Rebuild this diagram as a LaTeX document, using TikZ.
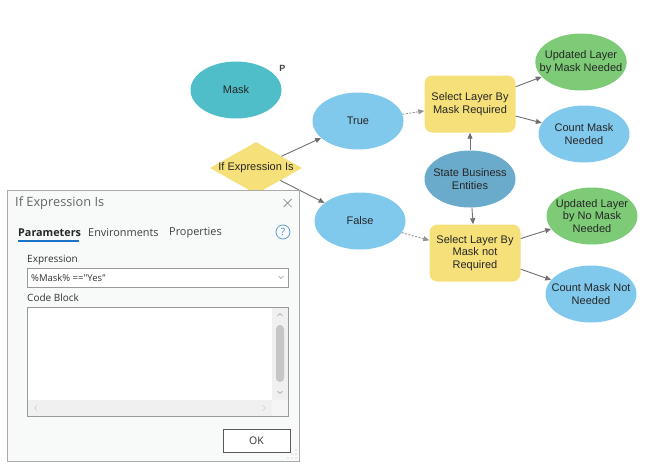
\documentclass[tikz,border=0pt]{standalone}
\definecolor{maskteal}{RGB}{80, 190, 200}
\definecolor{varblue}{RGB}{128, 200, 236}
\definecolor{toolyellow}{RGB}{245, 224, 122}
\definecolor{outgreen}{RGB}{125, 203, 119}
\definecolor{datablue}{RGB}{106, 170, 203}
\definecolor{linkgray}{RGB}{112, 112, 112}
\definecolor{dlgborder}{RGB}{170, 170, 170}
\definecolor{dlgbg}{RGB}{248, 249, 249}
\definecolor{tabblue}{RGB}{26, 115, 200}
\definecolor{bargray}{RGB}{240, 240, 240}
\usepackage{fontspec}
\setmainfont{Liberation Sans}
\newfontfamily\uifont{Open Sans}
\usepackage{tikz}
\usetikzlibrary{shapes.geometric, arrows.meta, positioning, calc}

\tikzset{
  varnode/.style={ellipse, fill=varblue, minimum width=91pt, minimum height=57pt, inner xsep=-9pt, inner ysep=-6pt, align=center},
  toolnode/.style={rectangle, rounded corners=8pt, fill=toolyellow, minimum width=91pt, minimum height=57pt, inner sep=0pt, align=center},
  outnode/.style={varnode, fill=outgreen},
  condnode/.style={diamond, fill=toolyellow, minimum width=92pt, minimum height=52pt, inner sep=0pt},
  flow/.style={draw=linkgray, line width=0.9pt, -{Triangle[length=6pt, width=5pt]}},
  prec/.style={flow, draw=linkgray!75, dash pattern=on 2pt off 1.5pt},
  uitext/.style={anchor=west, inner sep=0pt, font=\uifont\fontsize{10}{12}\selectfont, text=black!80},
  chev/.style={draw=gray!80, line width=0.6pt}
}

\begin{document}
\begin{tikzpicture}[x=1pt, y=-1pt, font=\fontsize{11}{12.5}\selectfont, text=black!85]
  \useasboundingbox (0,0) rectangle (650,466);

  % Model parameter
  \node[varnode, fill=maskteal, label={[anchor=center, xshift=14pt, yshift=1pt, font=\bfseries\fontsize{9}{9}\selectfont, text=black!75]north east:P}] (mask) at (236,90) {Mask};

  % Condition and its outputs
  \node[condnode] (ifexpr) at (256,168) {\makebox[0pt]{If Expression Is}};
  \node[varnode] (true) at (358,121) {True};
  \node[varnode] (false) at (360,221) {False};

  % Input data
  \node[varnode, fill=datablue] (state) at (470,179) {State Business\\Entities};

  % Select tools
  \node[toolnode] (selreq) at (470,104) {Select Layer By\\Mask Required};
  \node[toolnode] (selnot) at (475,253) {Select Layer By\\Mask not\\Required};

  % Outputs
  \node[outnode] (updreq) at (581,62) {Updated Layer\\by Mask Needed};
  \node[varnode] (cntreq) at (584,134) {Count Mask\\Needed};
  \node[outnode] (updnot) at (592,216) {Updated Layer\\by No Mask\\Needed};
  \node[varnode] (cntnot) at (591,294) {Count Mask Not\\Needed};

  % Connectors
  \draw[flow] (ifexpr) -- (true);
  \draw[flow] (ifexpr) -- (false);
  \draw[prec] (true) -- (selreq);
  \draw[prec] (false) -- (selnot);
  \draw[flow] (state) -- (selreq);
  \draw[flow] (state) -- (selnot);
  \draw[flow] (selreq) -- (updreq);
  \draw[flow] (selreq) -- (cntreq);
  \draw[flow] (selnot) -- (updnot);
  \draw[flow] (selnot) -- (cntnot);

  % Tool dialog
  \draw[draw=dlgborder, fill=dlgbg, line width=0.8pt] (7,190) rectangle (299,461);
  \node[uitext, font=\uifont\fontsize{12.8}{14}\selectfont, text=black!60] (dlgtitle) at (15,203) {If Expression Is};
  \draw[draw=gray, line width=0.7pt] (283.5,199) -- (291.5,207) (283.5,207) -- (291.5,199);

  % Tabs
  \node[uitext, font=\uifont\bfseries\fontsize{10.8}{12}\selectfont, text=black!85] (tabparam) at (18,233) {Parameters};
  \node[uitext, font=\uifont\fontsize{10.9}{12}\selectfont, text=black!75] (tabenv) at (88,233) {Environments};
  \node[uitext, font=\uifont\fontsize{10.9}{12}\selectfont, text=black!75] (tabprop) at (169,233) {Properties};
  \draw[tabblue, line width=1.8pt] (18,241) -- (79,241);
  \node[circle, draw=tabblue!70, line width=0.8pt, minimum size=14pt, inner sep=0pt, text=tabblue!80, font=\uifont\fontsize{10}{10}\selectfont] (help) at (283,232) {?};

  % Expression
  \node[uitext] (exprlbl) at (27,260) {Expression};
  \draw[draw=gray!80, fill=white, line width=0.6pt] (27,268) rectangle (288,287);
  \node[uitext, font=\uifont\fontsize{9.5}{11}\selectfont] (exprval) at (31,277.5) {\%Mask\% =="Yes"};
  \draw[chev] (278.5,276) -- (281,278.5) -- (283.5,276);

  % Code block
  \node[uitext] (codelbl) at (27,298) {Code Block};
  \draw[draw=gray!80, fill=white, line width=0.6pt] (27,307) rectangle (288,416);
  \fill[bargray] (272,307.5) rectangle (287.5,400);
  \fill[bargray] (27.5,400) rectangle (272,415.5);
  \fill[bargray!70] (272,400) rectangle (287.5,415.5);
  \fill[gray!45, rounded corners=4pt] (276,325) rectangle (284,382);
  \draw[chev] (277.5,316) -- (280,313.5) -- (282.5,316);
  \draw[chev] (277.5,391) -- (280,393.5) -- (282.5,391);
  \draw[chev, draw=gray!40] (37,405.5) -- (34.5,408) -- (37,410.5);
  \draw[chev, draw=gray!40] (263,405.5) -- (265.5,408) -- (263,410.5);

  % Buttons
  \draw[draw=gray!70!black, fill=white, line width=0.7pt] (223,429) rectangle (290,452);
  \node[font=\uifont\fontsize{10.5}{12}\selectfont, text=black!80] (okbtn) at (256.5,440.5) {OK};
  \foreach \gx/\gy in {296/450, 296/454, 292/454, 296/458, 292/458, 288/458}
    \fill[gray!60] (\gx,\gy) circle (0.7pt);
\end{tikzpicture}
\end{document}
